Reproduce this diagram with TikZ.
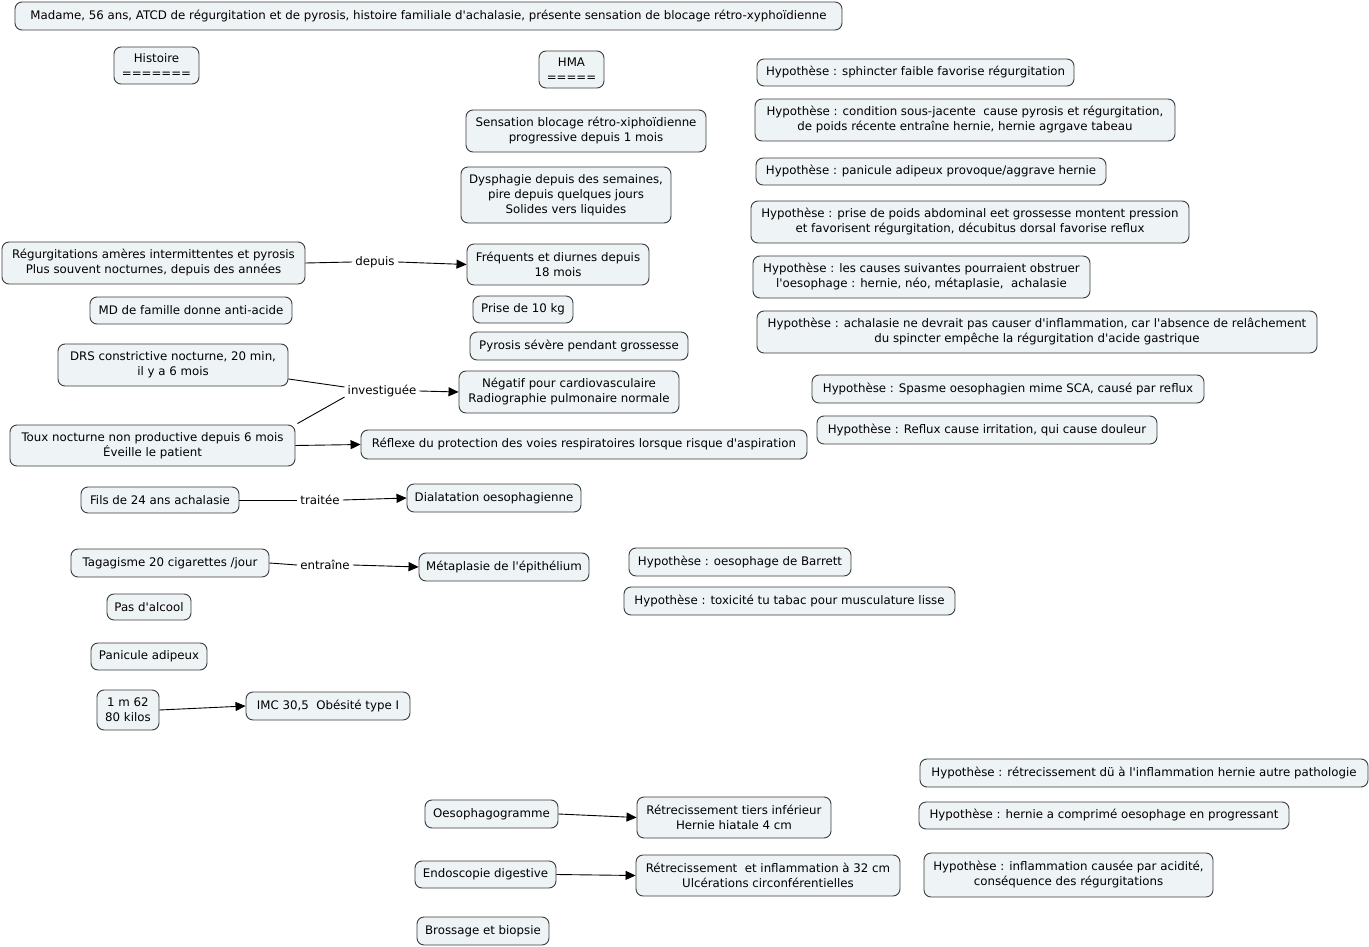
\documentclass[tikz,border=0pt]{standalone}
\usepackage{fontspec}
\setmainfont{DejaVu Sans}[Ligatures=TeXOff]
\usetikzlibrary{arrows.meta,calc}
\definecolor{boxfill}{RGB}{238,243,245}
\definecolor{boxline}{RGB}{60,60,60}
\tikzset{
  box/.style={draw=boxline, line width=0.9pt, fill=boxfill, rounded corners=7pt,
    align=center, inner sep=2pt, font=\fontsize{11.8}{15}\selectfont},
  sz/.style 2 args={minimum width=#1pt, minimum height=#2pt},
  lbl/.style={inner sep=3pt, font=\fontsize{11.8}{15}\selectfont},
  conn/.style={draw=black, line width=0.9pt},
  arr/.style={conn, -{Triangle[length=10pt,width=9pt]}}
}
\begin{document}
\begin{tikzpicture}[x=1pt,y=-1pt]
\useasboundingbox (0,0) rectangle (1369,947);
% left / centre column
\node[box,sz={827}{28}] (madame) at (428.5,16) {Madame, 56 ans, ATCD de régurgitation et de pyrosis, histoire familiale d'achalasie, présente sensation de blocage rétro-xyphoïdienne};
\node[box,sz={85}{37}] (hist) at (156.5,65.5) {Histoire\\=======};
\node[box,sz={65}{37}] (hma) at (571.5,69.5) {HMA\\=====};
\node[box,sz={240}{42}] (sens) at (586,131) {Sensation blocage rétro-xiphoïdienne\\progressive depuis 1 mois};
\node[box,sz={210}{56}] (dysph) at (566,195) {Dysphagie depuis des semaines,\\pire depuis quelques jours\\Solides vers liquides};
\node[box,sz={303}{42}] (regurg) at (153.5,263) {Régurgitations amères intermittentes et pyrosis\\Plus souvent nocturnes, depuis des années};
\node[box,sz={182}{41}] (freq) at (558,264.5) {Fréquents et diurnes depuis\\18 mois};
\node[box,sz={202}{27}] (md) at (191,310.5) {MD de famille donne anti-acide};
\node[box,sz={100}{27}] (prise) at (523,309.5) {Prise de 10 kg};
\node[box,sz={218}{28}] (pyro) at (579,346) {Pyrosis sévère pendant grossesse};
\node[box,sz={230}{42}] (drs) at (173,365) {DRS constrictive nocturne, 20 min,\\il y a 6 mois};
\node[box,sz={220}{42}] (neg) at (569,392) {Négatif pour cardiovasculaire\\Radiographie pulmonaire normale};
\node[box,sz={285}{41}] (toux) at (152.5,445.5) {Toux nocturne non productive depuis 6 mois\\Éveille le patient};
\node[box,sz={446}{29}] (reflexe) at (584,444.5) {Réflexe du protection des voies respiratoires lorsque risque d'aspiration};
\node[box,sz={158}{26}] (fils) at (160,500) {Fils de 24 ans achalasie};
\node[box,sz={174}{28}] (dial) at (494,498) {Dialatation oesophagienne};
\node[box,sz={198}{28}] (tabac) at (170,563) {Tagagisme 20 cigarettes /jour};
\node[box,sz={170}{28}] (meta) at (504,567) {Métaplasie de l'épithélium};
\node[box,sz={84}{26}] (alcool) at (149,607) {Pas d'alcool};
\node[box,sz={116}{27}] (panic) at (149,656.5) {Panicule adipeux};
\node[box,sz={62}{40}] (taille) at (128,710) {1 m 62\\80 kilos};
\node[box,sz={164}{28}] (imc) at (328,706) {IMC 30,5\ \ Obésité type I};
\node[box,sz={133}{28}] (oeso) at (491.5,814) {Oesophagogramme};
\node[box,sz={194}{41}] (ret1) at (734,817.5) {Rétrecissement tiers inférieur\\Hernie hiatale 4 cm};
\node[box,sz={141}{27}] (endo) at (485.5,874.5) {Endoscopie digestive};
\node[box,sz={264}{41}] (ret2) at (768,875.5) {Rétrecissement\ \ et inflammation à 32 cm\\Ulcérations circonférentielles};
\node[box,sz={132}{28}] (bross) at (483,931) {Brossage et biopsie};
% hypotheses
\node[box,sz={317}{27}] (h1) at (915.5,72.5) {Hypothèse : sphincter faible favorise régurgitation};
\node[box,sz={420}{42}] (h2) at (965,120) {Hypothèse : condition sous-jacente\ \ cause pyrosis et régurgitation,\\de poids récente entraîne hernie, hernie agrgave tabeau};
\node[box,sz={350}{27}] (h3) at (931,171.5) {Hypothèse : panicule adipeux provoque/aggrave hernie};
\node[box,sz={438}{42}] (h4) at (970,222) {Hypothèse : prise de poids abdominal eet grossesse montent pression\\et favorisent régurgitation, décubitus dorsal favorise reflux};
\node[box,sz={337}{42}] (h5) at (921.5,277) {Hypothèse : les causes suivantes pourraient obstruer\\l'oesophage : hernie, néo, métaplasie,\ \ achalasie};
\node[box,sz={560}{42}] (h6) at (1037,332) {Hypothèse : achalasie ne devrait pas causer d'inflammation, car l'absence de relâchement\\du spincter empêche la régurgitation d'acide gastrique};
\node[box,sz={392}{28}] (h7) at (1008,389) {Hypothèse : Spasme oesophagien mime SCA, causé par reflux};
\node[box,sz={340}{28}] (h8) at (987,430) {Hypothèse : Reflux cause irritation, qui cause douleur};
\node[box,sz={222}{28}] (h9) at (740,562) {Hypothèse : oesophage de Barrett};
\node[box,sz={331}{28}] (h10) at (789.5,601) {Hypothèse : toxicité tu tabac pour musculature lisse};
\node[box,sz={448}{28}] (h11) at (1144,773) {Hypothèse : rétrecissement dü à l'inflammation hernie autre pathologie};
\node[box,sz={370}{27}] (h12) at (1104,815.5) {Hypothèse : hernie a comprimé oesophage en progressant};
\node[box,sz={289}{44}] (h13) at (1068.5,875) {Hypothèse : inflammation causée par acidité,\\conséquence des régurgitations};
% linking phrases
\node[lbl] (depuis) at (375,262) {depuis};
\node[lbl] (invest) at (382,391) {investiguée};
\node[lbl] (traitee) at (320,500) {traitée};
\node[lbl] (entraine) at (325,565) {entraîne};
% connectors
\draw[conn] (regurg.east) -- (depuis.west);
\draw[arr] (depuis.east) -- (freq.west);
\draw[conn] ($(drs.east)+(0,14)$) -- ($(invest.west)+(0,-4)$);
\draw[conn] ($(toux.north east)+(2,-1)$) -- ($(invest.west)+(0,6)$);
\draw[arr] (invest.east) -- (neg.west);
\draw[arr] (toux.east) -- (reflexe.west);
\draw[conn] (fils.east) -- (traitee.west);
\draw[arr] (traitee.east) -- (dial.west);
\draw[conn] (tabac.east) -- (entraine.west);
\draw[arr] (entraine.east) -- (meta.west);
\draw[arr] (taille.east) -- (imc.west);
\draw[arr] (oeso.east) -- (ret1.west);
\draw[arr] (endo.east) -- (ret2.west);
\end{tikzpicture}
\end{document}
